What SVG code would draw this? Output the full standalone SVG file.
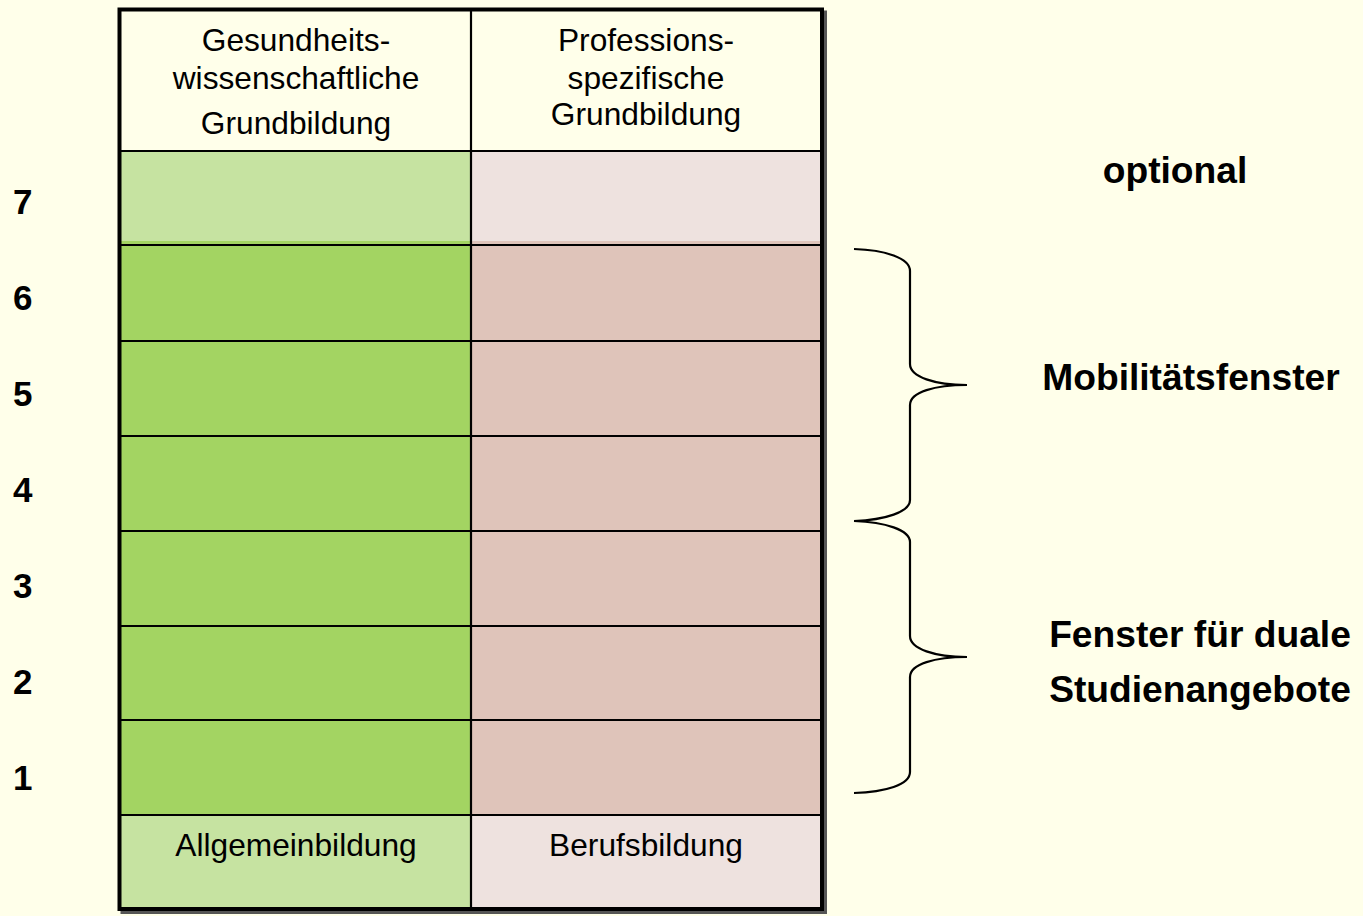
<svg xmlns="http://www.w3.org/2000/svg" width="1363" height="916" viewBox="0 0 1363 916">
  <style>
    .hdr { font-family: "Liberation Sans", Arial, sans-serif; font-size: 31.7px; fill: #000; text-anchor: middle; }
    .num { font-family: "Liberation Sans", Arial, sans-serif; font-size: 35px; font-weight: bold; fill: #000; }
    .lbl { font-family: "Liberation Sans", Arial, sans-serif; font-size: 37.2px; font-weight: bold; fill: #000; }
    .grid { stroke: #000; stroke-width: 2.2; fill: none; }
    .brace { stroke: #000; stroke-width: 2.2; fill: none; }
    .lg { fill: #C6E3A1; }
    .dg { fill: #A3D462; }
    .lp { fill: #EEE2DF; }
    .dp { fill: #DFC4BA; }
  </style>
  <rect x="0" y="0" width="1363" height="916" fill="#FFFFEA"/>

  <!-- shadow of table -->
  <rect x="122.5" y="12.5" width="702.5" height="899.5" fill="none" stroke="#555" stroke-width="4"/>

  <g id="header-left">
    <rect x="121" y="11" width="350" height="140" fill="#FFFFEA"/>
    <text class="hdr" x="296" y="51">Gesundheits-</text>
    <text class="hdr" x="296" y="89">wissenschaftliche</text>
    <text class="hdr" x="296" y="134">Grundbildung</text>
  </g>
  <g id="header-right">
    <rect x="471" y="11" width="350" height="140" fill="#FFFFEA"/>
    <text class="hdr" x="646" y="51">Professions-</text>
    <text class="hdr" x="646" y="89">spezifische</text>
    <text class="hdr" x="646" y="125">Grundbildung</text>
  </g>

  <g id="row7">
    <rect class="dg" x="121" y="151" width="350" height="94"/>
    <rect class="lg" x="121" y="151" width="350" height="90"/>
    <rect class="dp" x="471" y="151" width="350" height="94"/>
    <rect class="lp" x="471" y="151" width="350" height="90"/>
  </g>
  <g id="row6">
    <rect class="dg" x="121" y="245" width="350" height="96"/>
    <rect class="dp" x="471" y="245" width="350" height="96"/>
  </g>
  <g id="row5">
    <rect class="dg" x="121" y="341" width="350" height="95"/>
    <rect class="dp" x="471" y="341" width="350" height="95"/>
  </g>
  <g id="row4">
    <rect class="dg" x="121" y="436" width="350" height="95"/>
    <rect class="dp" x="471" y="436" width="350" height="95"/>
  </g>
  <g id="row3">
    <rect class="dg" x="121" y="531" width="350" height="95"/>
    <rect class="dp" x="471" y="531" width="350" height="95"/>
  </g>
  <g id="row2">
    <rect class="dg" x="121" y="626" width="350" height="94"/>
    <rect class="dp" x="471" y="626" width="350" height="94"/>
  </g>
  <g id="row1">
    <rect class="dg" x="121" y="720" width="350" height="95"/>
    <rect class="dp" x="471" y="720" width="350" height="95"/>
  </g>
  <g id="footer-left">
    <rect class="lg" x="121" y="815" width="350" height="94"/>
    <text class="hdr" x="296" y="856">Allgemeinbildung</text>
  </g>
  <g id="footer-right">
    <rect class="lp" x="471" y="815" width="350" height="94"/>
    <text class="hdr" x="646" y="856">Berufsbildung</text>
  </g>

  <g id="grid-lines">
    <line class="grid" x1="471" y1="10" x2="471" y2="909"/>
    <line class="grid" x1="120" y1="151" x2="822" y2="151"/>
    <line class="grid" x1="120" y1="245" x2="822" y2="245"/>
    <line class="grid" x1="120" y1="341" x2="822" y2="341"/>
    <line class="grid" x1="120" y1="436" x2="822" y2="436"/>
    <line class="grid" x1="120" y1="531" x2="822" y2="531"/>
    <line class="grid" x1="120" y1="626" x2="822" y2="626"/>
    <line class="grid" x1="120" y1="720" x2="822" y2="720"/>
    <line class="grid" x1="120" y1="815" x2="822" y2="815"/>
    <rect x="119.5" y="9.5" width="702.5" height="899.5" fill="none" stroke="#000" stroke-width="4"/>
  </g>

  <g id="row-numbers">
    <text class="num" x="13" y="214">7</text>
    <text class="num" x="13" y="310">6</text>
    <text class="num" x="13" y="406">5</text>
    <text class="num" x="13" y="502">4</text>
    <text class="num" x="13" y="598">3</text>
    <text class="num" x="13" y="694">2</text>
    <text class="num" x="13" y="790">1</text>
  </g>

  <g id="connectors">
    <path class="brace" d="M854,249 C885,250 910,258 910,271 L910,364 C910,377 935,385 967,385 C935,385 910,392 910,405 L910,500 C910,512 885,520 854,521"/>
    <path class="brace" d="M854,521 C885,522 910,530 910,542 L910,636 C910,649 935,657 967,657 C935,657 910,664 910,677 L910,772 C910,785 885,792 854,793"/>
  </g>

  <g id="label-optional">
    <text class="lbl" x="1175" y="183" text-anchor="middle">optional</text>
  </g>
  <g id="label-mobilitaet">
    <text class="lbl" x="1191" y="390" text-anchor="middle">Mobilitätsfenster</text>
  </g>
  <g id="label-dual">
    <text class="lbl" x="1200" y="647" text-anchor="middle">Fenster für duale</text>
    <text class="lbl" x="1200" y="702" text-anchor="middle">Studienangebote</text>
  </g>
</svg>
